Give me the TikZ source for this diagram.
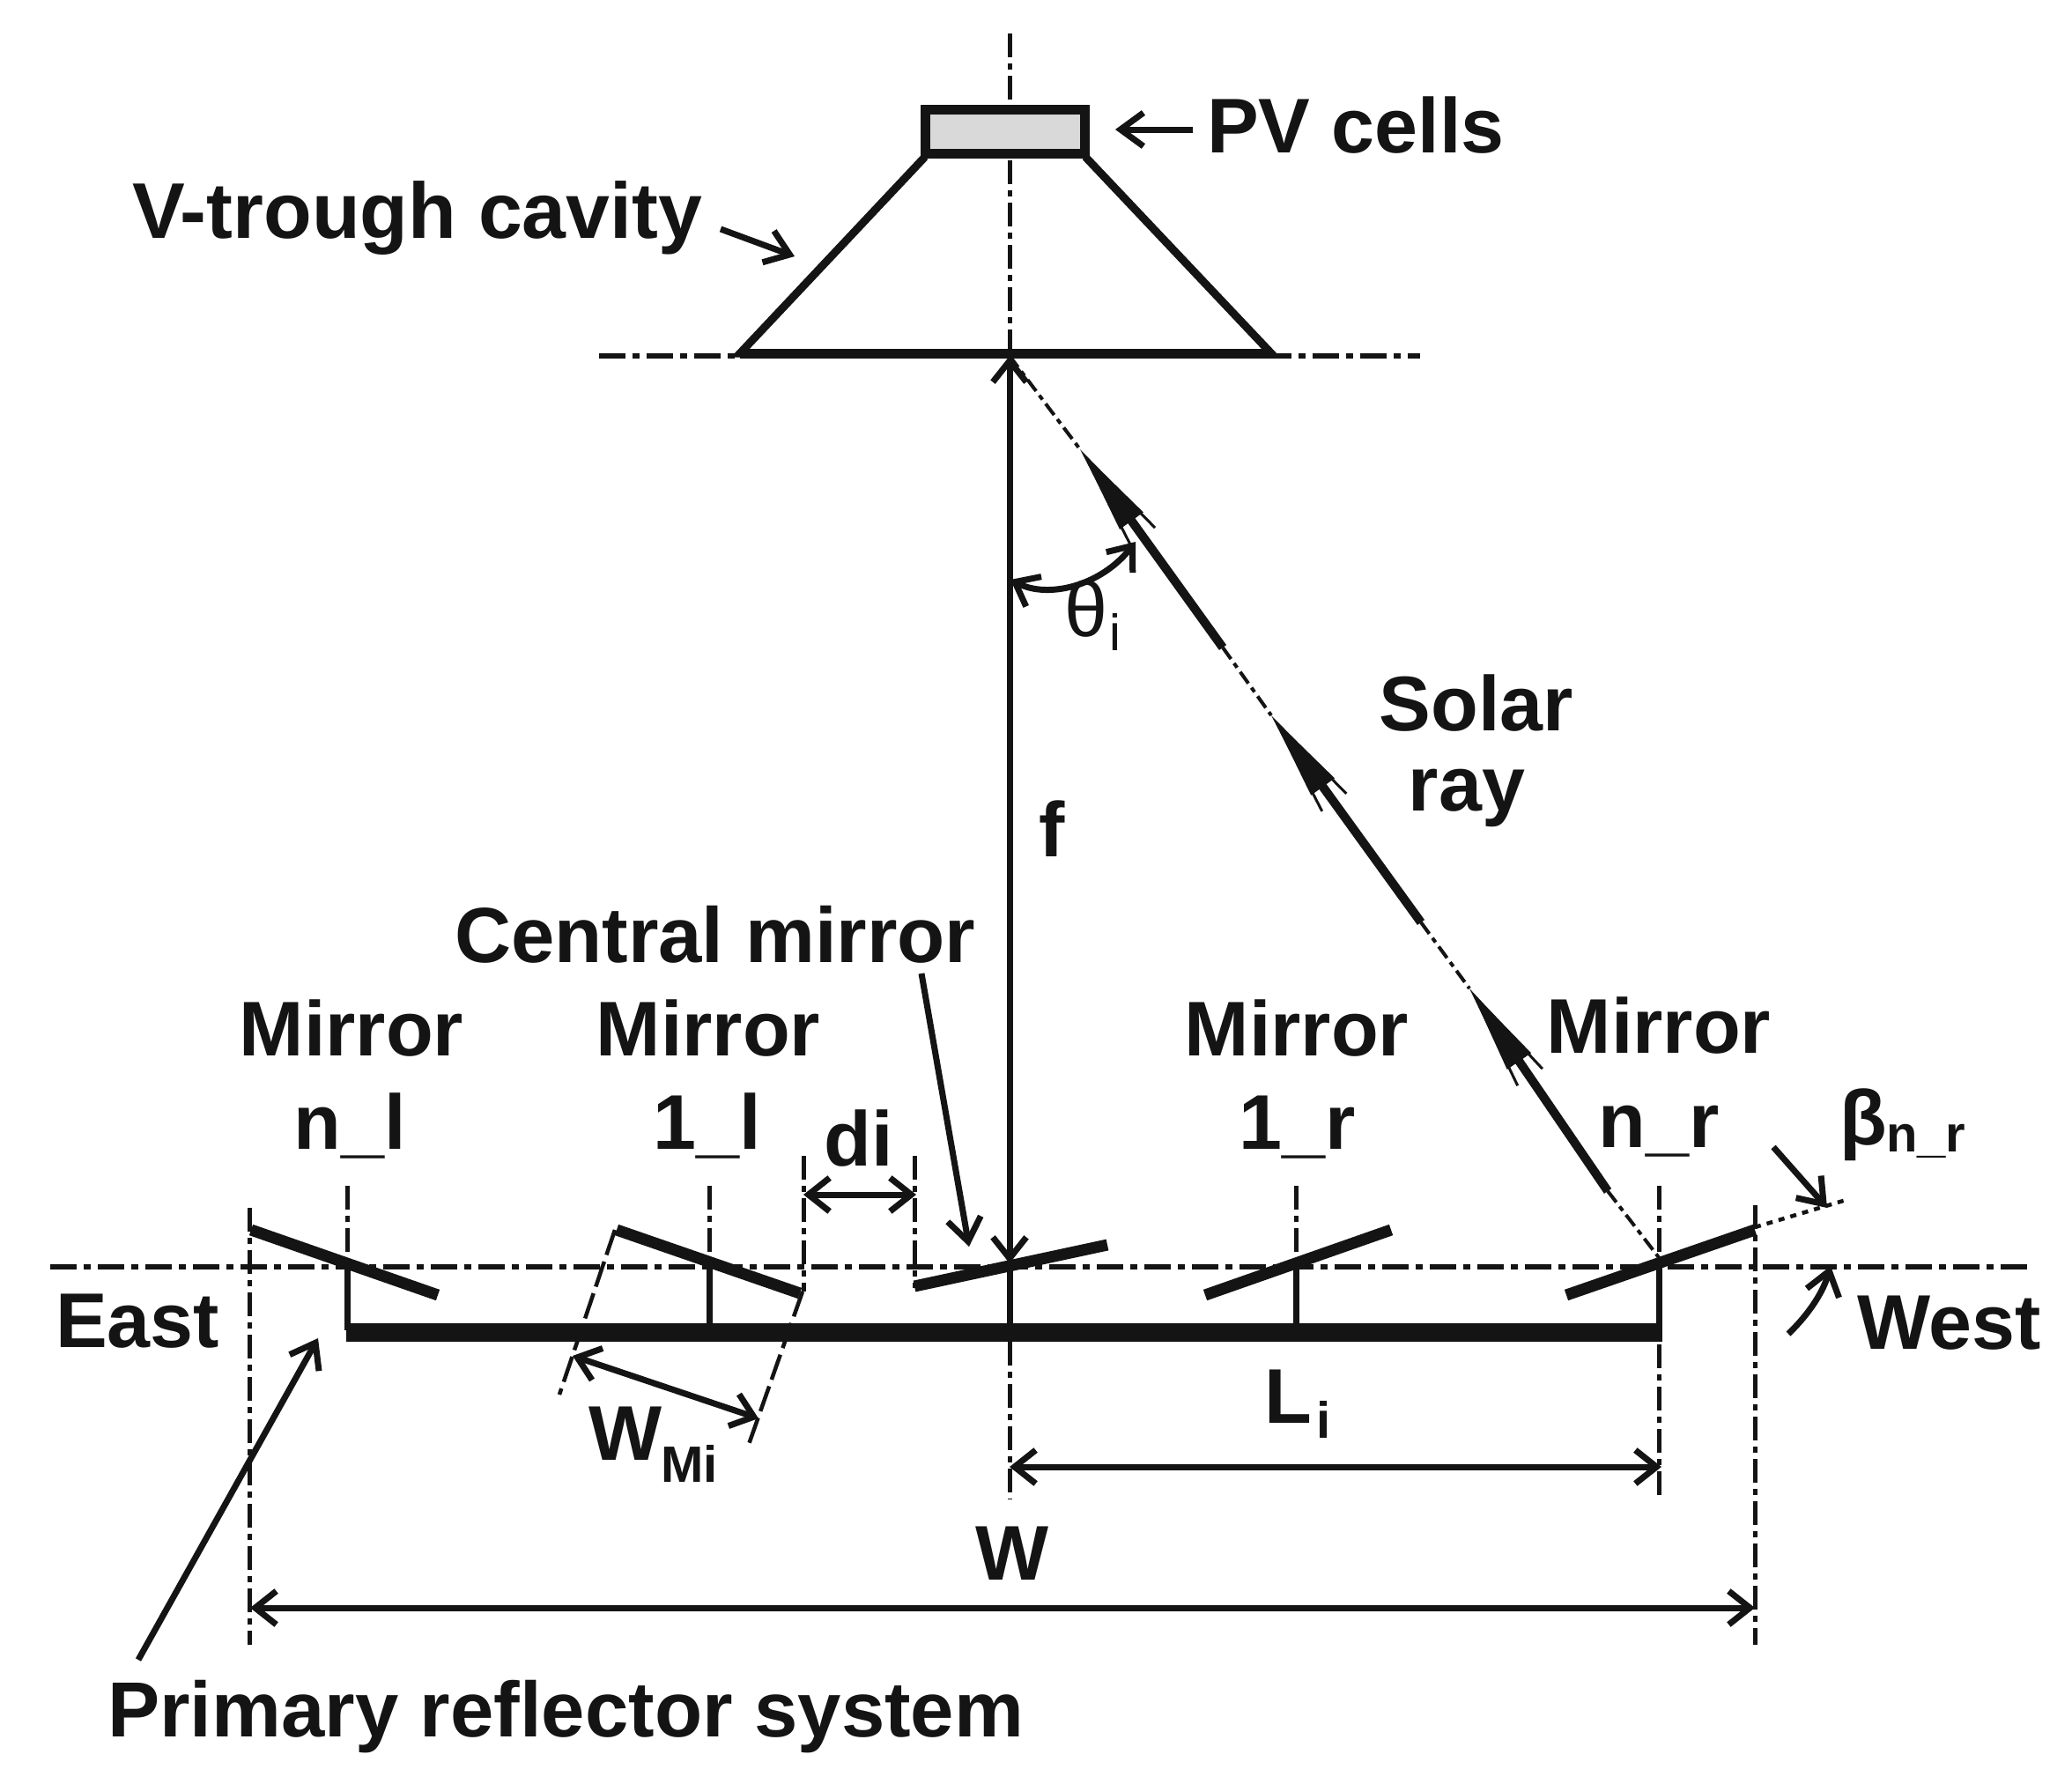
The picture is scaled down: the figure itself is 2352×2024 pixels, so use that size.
\documentclass[tikz,border=0pt]{standalone}
\usepackage{fontspec}
\setmainfont{Liberation Sans}
\usetikzlibrary{arrows.meta}
\definecolor{ink}{HTML}{141414}
\definecolor{cellgray}{HTML}{D9D9D9}
\newcommand{\bigt}{\fontsize{88}{96}\bfseries\selectfont}
\newcommand{\bigtb}{\fontsize{89.6}{96}\bfseries\selectfont}
\newcommand{\bigtc}{\fontsize{88.7}{96}\bfseries\selectfont}
\newcommand{\subt}{\fontsize{58}{60}\bfseries\selectfont}
\newcommand{\subthin}{\fontsize{58}{60}\mdseries\selectfont}
\newcommand{\thinsym}{\fontsize{88}{96}\mdseries\selectfont}
\tikzset{
  x=1pt,y=-1pt,
  every node/.style={text=ink,inner sep=0pt,outer sep=0pt},
  lab/.style={font=\bigt,anchor=base},
  labw/.style={font=\bigt,anchor=base west},
  subl/.style={font=\subt,anchor=base west},
  chain/.style={draw=ink,line width=5pt,dash pattern=on 27pt off 7pt on 7pt off 7pt},
  chainh/.style={draw=ink,line width=6.5pt,dash pattern=on 30pt off 8pt on 8pt off 8pt},
  raythin/.style={draw=ink,line width=4pt,dash pattern=on 16pt off 6pt on 6pt off 6pt},
  mirrorbar/.style={draw=ink,line width=13pt},
  post/.style={draw=ink,line width=7pt},
  dim/.style={draw=ink,line width=7pt,{Straight Barb[length=24pt,width=38pt,line width=7pt]}-{Straight Barb[length=24pt,width=38pt,line width=7pt]}},
  pointer/.style={draw=ink,line width=7pt,-{Straight Barb[length=26pt,width=38pt,line width=7pt]}},
  rayhead/.style={draw=ink,line width=10pt,-{Triangle[length=100pt,width=30pt]}},
  raybarb/.style={draw=ink,line width=3pt,-{Straight Barb[length=112pt,width=34pt,line width=3pt]}},
}
\begin{document}
\begin{tikzpicture}
\useasboundingbox (0,0) rectangle (2352,2024);
\fill[white] (0,0) rectangle (2352,2024);
% axis lines
\coordinate (axT) at (1146,38);
\coordinate (axB) at (1146,400);
\coordinate (axLo1) at (1146,1523);
\coordinate (axLo2) at (1146,1702);
\draw[chain] (axT) -- (axB);
\draw[chain] (axLo1) -- (axLo2);
\coordinate (hA) at (680,404); \coordinate (hB) at (1612,404);
\draw[chainh] (hA) -- (hB);
\coordinate (gL) at (57,1438); \coordinate (gR) at (2303,1438);
\draw[chainh] (gL) -- (gR);
% V-trough and cells
\coordinate (cTL) at (1050,178); \coordinate (cTR) at (1232,178);
\coordinate (cBL) at (840,401); \coordinate (cBR) at (1443,401);
\draw[draw=ink,line width=9pt,line join=miter] (cTL) -- (cBL) -- (cBR) -- (cTR);
\draw[draw=ink,line width=11pt] (cBL) -- (cBR);
\node[draw=ink,line width=11pt,fill=cellgray,minimum width=181pt,minimum height=50pt,anchor=center] (cells) at (1141,149) {};
\draw[draw=ink,line width=8pt] ([yshift=-1pt]cells.south west) -- ([yshift=-1pt]cells.south east);
% extension lines
\coordinate (e1a) at (283,1371); \coordinate (e1b) at (283,1867);
\coordinate (e2a) at (1992,1368); \coordinate (e2b) at (1992,1867);
\draw[chain] (e1a) -- (e1b);
\draw[chain] (e2a) -- (e2b);
\coordinate (n1a) at (394,1346); \coordinate (n1b) at (394,1437);
\coordinate (l1a) at (805,1346); \coordinate (l1b) at (805,1437);
\coordinate (r1a) at (1471,1346); \coordinate (r1b) at (1471,1437);
\coordinate (nra) at (1883,1346); \coordinate (nrb) at (1883,1430);
\coordinate (nrc) at (1883,1526); \coordinate (nrd) at (1883,1702);
\draw[chain] (n1a) -- (n1b);
\draw[chain] (l1a) -- (l1b);
\draw[chain] (r1a) -- (r1b);
\draw[chain] (nra) -- (nrb);
\draw[chain] (nrc) -- (nrd);
\coordinate (d1a) at (912,1312); \coordinate (d1b) at (912,1466);
\coordinate (d2a) at (1038,1312); \coordinate (d2b) at (1038,1462);
\draw[chain] (d1a) -- (d1b);
\draw[chain] (d2a) -- (d2b);
% slanted extensions of W_Mi
\coordinate (wa1) at (698,1396); \coordinate (wa2) at (635,1583);
\coordinate (wb1) at (911,1466); \coordinate (wb2) at (848,1645);
\draw[draw=ink,line width=4.5pt,dash pattern=on 30pt off 8pt] (wa1) -- (wa2);
\draw[draw=ink,line width=4.5pt,dash pattern=on 30pt off 8pt] (wb1) -- (wb2);
% base and posts
\coordinate (bL) at (393,1512); \coordinate (bR) at (1887,1512);
\draw[draw=ink,line width=21pt] (bL) -- (bR);
\coordinate (p1) at (394,1437); \coordinate (p1b) at (394,1510);
\coordinate (p2) at (805,1437); \coordinate (p2b) at (805,1510);
\coordinate (p3) at (1146,1437); \coordinate (p3b) at (1146,1510);
\coordinate (p4) at (1471,1437); \coordinate (p4b) at (1471,1510);
\coordinate (p5) at (1883,1437); \coordinate (p5b) at (1883,1510);
\draw[post] (p1) -- (p1b); \draw[post] (p2) -- (p2b); \draw[post] (p3) -- (p3b);
\draw[post] (p4) -- (p4b); \draw[post] (p5) -- (p5b);
% mirrors
\coordinate (m1a) at (285,1396); \coordinate (m1b) at (497,1470);
\coordinate (m2a) at (700,1396); \coordinate (m2b) at (908,1468);
\coordinate (m3a) at (1038,1460); \coordinate (m3b) at (1257,1413);
\coordinate (m4a) at (1368,1470); \coordinate (m4b) at (1579,1396);
\coordinate (m5a) at (1778,1470); \coordinate (m5b) at (1992,1396);
\draw[mirrorbar] (m1a) -- (m1b); \draw[mirrorbar] (m2a) -- (m2b);
\draw[mirrorbar] (m3a) -- (m3b); \draw[mirrorbar] (m4a) -- (m4b);
\draw[mirrorbar] (m5a) -- (m5b);
\coordinate (betaA) at (1992,1393); \coordinate (betaB) at (2099,1361);
\draw[draw=ink,line width=4.5pt,dash pattern=on 7pt off 7pt] (betaA) -- (betaB);
% f line
\coordinate (fT) at (1146,404); \coordinate (fB) at (1146,1434);
\draw[dim] (fT) -- (fB);
% solar ray
\coordinate (fo) at (1146,404);
\coordinate (rA) at (1226,510);
\coordinate (rB) at (1388,735);
\coordinate (rC) at (1443,812);
\coordinate (rD) at (1613,1047);
\coordinate (rE) at (1668,1122);
\coordinate (rF) at (1825,1352);
\coordinate (rG) at (1885,1430);
\draw[raythin] (fo) -- (rA);
\draw[raythin] (rB) -- (rC);
\draw[raythin] (rD) -- (rE);
\draw[raythin] (rF) -- (rG);
\draw[rayhead] (rB) -- (rA);
\draw[rayhead] (rD) -- (rC);
\draw[rayhead] (rF) -- (rE);
\draw[raybarb] (rB) -- (rA);
\draw[raybarb] (rD) -- (rC);
\draw[raybarb] (rF) -- (rE);
% angle arc
\coordinate (arcA) at (1147,658); \coordinate (arcB) at (1289,615);
\coordinate (arcC1) at (1190,680); \coordinate (arcC2) at (1250,665);
\draw[dim] (arcA) .. controls (arcC1) and (arcC2) .. (arcB);
% dimensions
\coordinate (diA) at (912,1356); \coordinate (diB) at (1040,1356);
\draw[dim] (diA) -- (diB);
\coordinate (wmA) at (650,1539); \coordinate (wmB) at (861,1610);
\draw[dim] (wmA) -- (wmB);
\coordinate (liA) at (1146,1665); \coordinate (liB) at (1886,1665);
\draw[dim] (liA) -- (liB);
\coordinate (wA) at (284,1825); \coordinate (wB) at (1992,1825);
\draw[dim] (wA) -- (wB);
% pointers
\coordinate (ptPVa) at (1354,147); \coordinate (ptPVb) at (1266,147);
\draw[pointer] (ptPVa) -- (ptPVb);
\coordinate (ptVa) at (818,260); \coordinate (ptVb) at (902,291);
\draw[pointer] (ptVa) -- (ptVb);
\coordinate (ptCa) at (1046,1105); \coordinate (ptCb) at (1100,1415);
\draw[pointer] (ptCa) -- (ptCb);
\coordinate (ptPa) at (157,1884); \coordinate (ptPb) at (361,1519);
\draw[pointer] (ptPa) -- (ptPb);
\coordinate (ptBa) at (2013,1302); \coordinate (ptBb) at (2074,1371);
\draw[pointer] (ptBa) -- (ptBb);
\coordinate (ptDa) at (2030,1514); \coordinate (ptDb) at (2078,1437);
\draw[pointer] (ptDa) .. controls (2055,1490) and (2070,1465) .. (ptDb);
% labels
\node[labw] (tPV) at (1370,173) {PV cells};
\node[labw,font=\bigtb] (tV) at (150,270) {V-trough cavity};
\node[lab] (tSolar) at (1676,829) {Solar};
\node[lab] (tRay) at (1665,920) {ray};
\node[lab] (tf) at (1194,972) {f};
\node[labw,font=\bigtc] (tC) at (516,1092) {Central mirror};
\node[lab] (tM1) at (399,1198) {Mirror};
\node[lab] (tN1) at (397,1304) {n\_l};
\node[lab] (tM2) at (804,1198) {Mirror};
\node[lab] (tN2) at (803,1304) {1\_l};
\node[lab] (tdi) at (975,1323) {di};
\node[lab] (tM3) at (1472,1198) {Mirror};
\node[lab] (tN3) at (1473,1304) {1\_r};
\node[lab] (tM4) at (1883,1195) {Mirror};
\node[lab] (tN4) at (1883,1302) {n\_r};
\node[labw] (tEast) at (63,1529) {East};
\node[labw] (tWest) at (2108,1531) {West};
\node[labw] (tWm) at (668,1657) {W};
\node[subl] (tWms) at (750,1682) {Mi};
\node[labw] (tL) at (1435,1615) {L};
\node[subl] (tLs) at (1494,1632) {i};
\node[lab] (tW) at (1149,1793) {W};
\node[labw,font=\bigtc] (tP) at (122,1971) {Primary reflector system};
\node[labw,font=\thinsym] (tth) at (1208,722) {θ};
\node[subl,font=\subthin] (tths) at (1259,738) {i};
\node[labw] (tbe) at (2088,1299) {β};
\node[subl] (tbes) at (2141,1307) {n\_r};
\end{tikzpicture}
\end{document}
